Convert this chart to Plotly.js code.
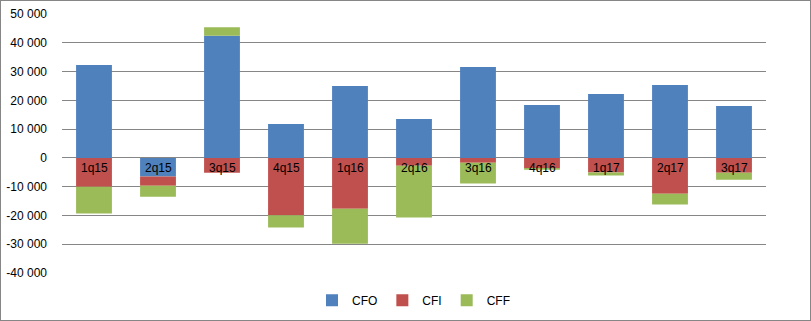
<!DOCTYPE html>
<html><head><meta charset="utf-8">
<script src="https://cdn.plot.ly/plotly-3.0.1.min.js"></script>
<style>
html,body{margin:0;padding:0;background:#fff;}
#wrap{position:relative;width:811px;height:321px;}
#chart{width:811px;height:321px;}
#border{position:absolute;left:0;top:0;width:811px;height:321px;box-sizing:border-box;border:1px solid #868686;pointer-events:none;}
</style></head>
<body>
<div id="wrap"><div id="chart"></div><div id="border"></div></div>
<script>
const categories = ["1q15","2q15","3q15","4q15","1q16","2q16","3q16","4q16","1q17","2q17","3q17"];
const cfo = [32300, -6500, 42400, 11800, 25000, 13500, 31600, 18400, 22200, 25300, 18000];
const cfi = [-10000, -3200, -5200, -19900, -17700, -2700, -1700, -3500, -5100, -12500, -5200];
const cff = [-9300, -3800, 3000, -4300, -12100, -18000, -7200, -600, -1000, -3700, -2400];
const tickVals = [50000, 40000, 30000, 20000, 10000, 0, -10000, -20000, -30000, -40000];
const tickText = ["50 000","40 000","30 000","20 000","10 000","0","-10 000","-20 000","-30 000","-40 000"];

const font = "Liberation Sans, Arial, sans-serif";
const traces = [
  {type:"bar", name:"CFO", x:categories, y:cfo, marker:{color:"#4F81BD"}},
  {type:"bar", name:"CFI", x:categories, y:cfi, marker:{color:"#C0504D"}},
  {type:"bar", name:"CFF", x:categories, y:cff, marker:{color:"#9BBB59"}}
];
const annotations = categories.map(c => ({
  x:c, y:0, xref:"x", yref:"y", text:c, showarrow:false,
  yanchor:"top", yshift:-1, font:{family:font, size:12, color:"#000"}
}));
const layout = {
  width:811, height:321,
  margin:{l:62, r:45, t:14, b:48, autoexpand:false},
  barmode:"relative", bargap:0.44,
  paper_bgcolor:"#fff", plot_bgcolor:"#fff",
  font:{family:font, size:12, color:"#000"},
  showlegend:true,
  legend:{orientation:"h", x:0.5, xanchor:"center", yref:"container", y:0.065, yanchor:"middle",
          font:{family:font, size:12, color:"#000"}, itemwidth:30, traceorder:"normal"},
  xaxis:{showticklabels:false, showgrid:false, zeroline:false, showline:false, ticks:""},
  yaxis:{range:[-40000,50000], tickvals:tickVals, ticktext:tickText, showgrid:true,
         gridcolor:"#868686", gridwidth:1, zeroline:false, showline:false, ticks:"",
         ticklabelstandoff:14, tickfont:{family:font, size:12, color:"#000"}},
  annotations:annotations
};
Plotly.newPlot("chart", traces, layout, {displayModeBar:false, staticPlot:true});
</script>
</body></html>
